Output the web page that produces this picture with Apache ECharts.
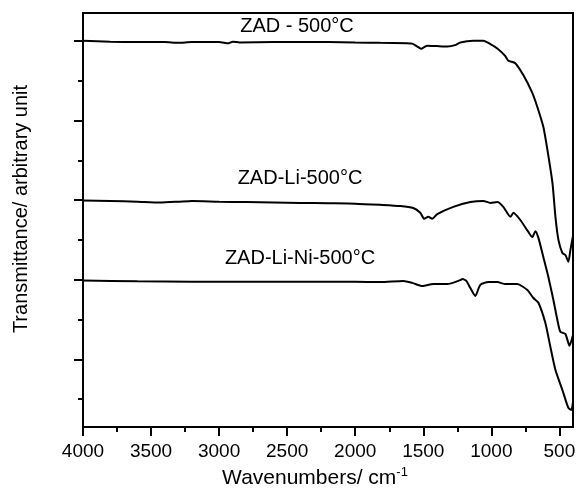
<!DOCTYPE html>
<html>
<head>
<meta charset="utf-8">
<script src="https://cdn.jsdelivr.net/npm/echarts@6/dist/echarts.min.js"></script>
<style>html,body{margin:0;padding:0;background:#fff;}#c{width:582px;height:488px;}</style>
</head>
<body>
<div id="c"></div>
<script>
// X tick labels (wavenumbers, cm-1) and minor ticks
const xMajorTicks = [4000, 3500, 3000, 2500, 2000, 1500, 1000, 500];
const xMinorTicks = [3750, 3250, 2750, 2250, 1750, 1250, 750];
// Y ticks (unlabelled, arbitrary units)
const yMajorTicks = [1.7, 3.7, 5.7, 7.7, 9.7];
const yMinorTicks = [0.7, 2.7, 4.7, 6.7, 8.7];

const seriesNames = ['ZAD - 500°C', 'ZAD-Li-500°C', 'ZAD-Li-Ni-500°C'];

// ZAD - 500°C
const zadX = [4000,3800,3600,3400,3300,3200,3000,2930,2900,2850,2600,2400,2200,2000,1816,1620,1581,1540,1515,1490,1471,1400,1324,1260,1228,1132,1059,1007,956,900,875,824,765,700,662,618,588,551,529,507,478,456,434,419,400];
const zadY = [9.70,9.68,9.67,9.67,9.65,9.67,9.67,9.64,9.68,9.66,9.67,9.67,9.67,9.66,9.65,9.64,9.63,9.55,9.50,9.55,9.58,9.57,9.56,9.60,9.66,9.70,9.70,9.62,9.51,9.33,9.20,9.14,8.84,8.40,8.04,7.54,6.96,6.13,5.28,4.70,4.37,4.32,4.15,4.45,4.80];

// ZAD-Li-500°C
const liX = [4000,3800,3600,3434,3300,3200,3000,2800,2600,2400,2200,2000,1816,1669,1574,1522,1493,1463,1434,1397,1279,1154,1059,1007,956,912,860,838,787,728,699,676,654,618,581,544,515,493,456,426,400];
const liY = [5.69,5.68,5.66,5.64,5.66,5.68,5.66,5.65,5.64,5.63,5.62,5.61,5.58,5.55,5.50,5.38,5.23,5.28,5.23,5.35,5.53,5.65,5.68,5.63,5.65,5.53,5.28,5.38,5.20,4.90,4.77,4.92,4.75,4.27,3.77,3.19,2.69,2.39,2.34,2.04,2.31];

// ZAD-Li-Ni-500°C
const liNiX = [4000,3600,3200,2800,2400,2000,1816,1647,1581,1507,1426,1324,1228,1213,1184,1154,1118,1081,1022,956,897,809,735,691,654,603,566,529,478,434,412,400];
const liNiY = [3.68,3.66,3.65,3.65,3.65,3.65,3.64,3.67,3.62,3.54,3.59,3.59,3.69,3.72,3.67,3.49,3.29,3.57,3.64,3.64,3.59,3.59,3.44,3.24,3.12,2.61,2.01,1.43,0.93,0.48,0.43,0.63];

function zip(xs, ys) { return xs.map((x, i) => [x, ys[i]]); }

const FONT = 'Liberation Sans, Arial, Helvetica, sans-serif';
const chart = echarts.init(document.getElementById('c'), null, {renderer: 'canvas'});

const lineStyle = {color: '#000', width: 2};
function mkSeries(name, xs, ys) {
  return {name: name, type: 'line', data: zip(xs, ys), showSymbol: false, symbol: 'none',
    lineStyle: lineStyle, itemStyle: {color: '#000'}, smooth: 0.2, animation: false, xAxisIndex: 0, yAxisIndex: 0};
}

const option = {
  animation: false,
  backgroundColor: '#fff',
  grid: {left: 83, right: 9, top: 13, bottom: 61, show: true, borderColor: '#000', borderWidth: 2, containLabel: false, outerBoundsMode: 'none'},
  xAxis: [
    {type: 'value', position: 'bottom', inverse: true, min: 400, max: 4000,
     axisLine: {show: true, lineStyle: {color: '#000', width: 2}},
     axisTick: {show: true, inside: false, length: 9, customValues: xMajorTicks, lineStyle: {color: '#000', width: 2}},
     axisLabel: {show: true, customValues: xMajorTicks, margin: 15, color: '#000', fontSize: 19, fontFamily: FONT,
       formatter: function (v) { return String(v); }},
     splitLine: {show: false},
     name: 'Wavenumbers/ cm{sup|-1}', nameLocation: 'middle', nameGap: 28,
     nameTextStyle: {color: '#000', fontSize: 21, fontFamily: FONT, padding: [0, 26, 0, 0],
       rich: {sup: {fontSize: 13, fontFamily: FONT, color: '#000', verticalAlign: 'top', padding: [0, 0, 12, 0]}}}
    },
    {type: 'value', position: 'bottom', inverse: true, min: 400, max: 4000,
     axisLine: {show: false},
     axisTick: {show: true, inside: false, length: 5, customValues: xMinorTicks, lineStyle: {color: '#000', width: 2}},
     axisLabel: {show: false}, splitLine: {show: false}
    }
  ],
  yAxis: [
    {type: 'value', position: 'left', min: 0, max: 10.4,
     axisLine: {show: true, lineStyle: {color: '#000', width: 2}},
     axisTick: {show: true, inside: false, length: 9, customValues: yMajorTicks, lineStyle: {color: '#000', width: 2}},
     axisLabel: {show: false}, splitLine: {show: false},
     name: 'Transmittance/ arbitrary unit', nameLocation: 'middle', nameGap: 52, nameRotate: 90,
     nameTextStyle: {color: '#000', fontSize: 20, fontFamily: FONT, padding: [0, 0, 0, 22]}
    },
    {type: 'value', position: 'left', min: 0, max: 10.4,
     axisLine: {show: false},
     axisTick: {show: true, inside: false, length: 5, customValues: yMinorTicks, lineStyle: {color: '#000', width: 2}},
     axisLabel: {show: false}, splitLine: {show: false}
    }
  ],
  series: [
    mkSeries(seriesNames[0], zadX, zadY),
    mkSeries(seriesNames[1], liX, liY),
    mkSeries(seriesNames[2], liNiX, liNiY)
  ],
  graphic: [
    {type: 'text', x: 297, y: 26, silent: true,
     style: {text: seriesNames[0], fill: '#000', font: '20px ' + FONT, textAlign: 'center', textVerticalAlign: 'middle'}},
    {type: 'text', x: 300, y: 178, silent: true,
     style: {text: seriesNames[1], fill: '#000', font: '20px ' + FONT, textAlign: 'center', textVerticalAlign: 'middle'}},
    {type: 'text', x: 300, y: 258, silent: true,
     style: {text: seriesNames[2], fill: '#000', font: '20px ' + FONT, textAlign: 'center', textVerticalAlign: 'middle'}}
  ]
};
chart.setOption(option);
</script>
</body>
</html>
